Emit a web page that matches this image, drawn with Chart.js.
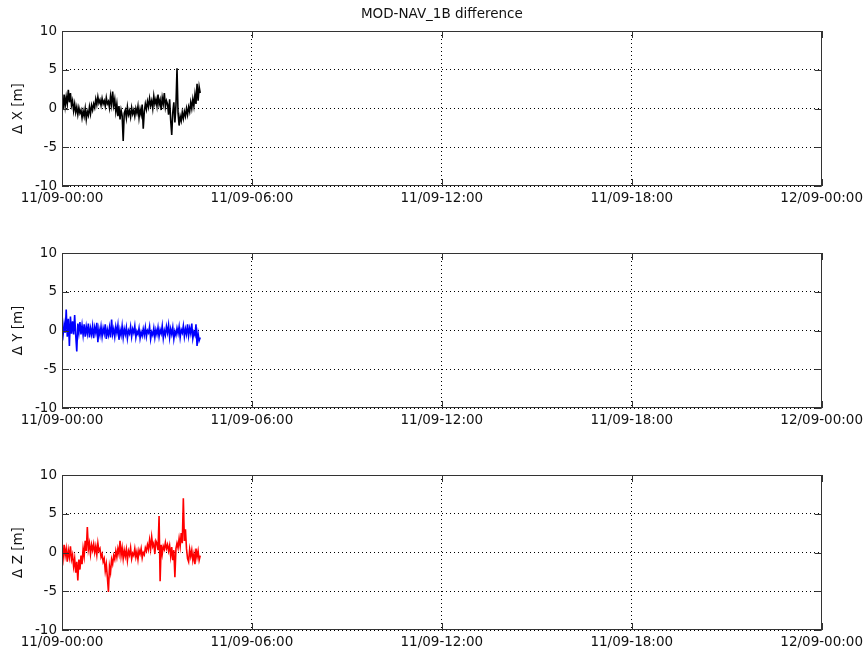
<!DOCTYPE html>
<html>
<head>
<meta charset="utf-8">
<script src="https://cdn.jsdelivr.net/npm/chart.js@4.4.1/dist/chart.umd.min.js"></script>
<style>
  body { margin: 0; background: #fff; }
  #wrap { position: relative; width: 867px; height: 652px; }
  .panel { position: absolute; left: 0; width: 867px; }
</style>
</head>
<body>
<div id="wrap">
  <div class="panel" style="top:0;height:222px"><canvas id="chartX"></canvas></div>
  <div class="panel" style="top:222px;height:222px"><canvas id="chartY"></canvas></div>
  <div class="panel" style="top:444px;height:208px"><canvas id="chartZ"></canvas></div>
</div>
<script>
// sampling: one value every 2 minutes from 11/09-00:00
const stepMinutes = 2;
const tickLabels = ['11/09-00:00', '11/09-06:00', '11/09-12:00', '11/09-18:00', '12/09-00:00'];
const axisTitles = ['\u0394 X [m]', '\u0394 Y [m]', '\u0394 Z [m]'];
const lineColors = ['#000000', '#0000ff', '#ff0000'];
const chartTitle = 'MOD-NAV_1B difference';

// MOD - NAV_1B differences [m]
const dx = [
  1.2, -0.2, 1.8, 0.3, 1.5, 0.6, 2.4, 0.8, 2.0, 0.4,
  1.0, -0.3, 0.6, -0.5, 0.2, -0.8, 0.1, -0.6, -0.2, -1.2,
  -0.3, -1.0, 0.0, -1.4, -0.4, -0.9, 0.2, -0.7, 0.4, -0.2,
  0.6, 0.1, 1.2, 0.5, 1.5, 0.7, 1.1, 0.4, 1.3, 0.6,
  1.0, 0.3, 1.4, 0.6, 0.9, 0.1, 1.6, 0.5, 2.2, 0.4,
  1.2, -0.4, 0.6, -1.0, 0.3, -1.4, -0.2, -0.9, -4.2, -0.6,
  -0.2, -1.2, 0.2, -0.8, -0.3, -1.1, 0.1, -0.7, -0.2, -1.0,
  0.0, -0.6, 0.3, -1.2, -0.1, -0.8, 0.5, -2.6, -0.4, 0.6,
  -0.1, 0.9, 0.2, 1.3, 0.4, 1.0, 0.0, 1.6, 0.6, 1.2,
  0.3, 1.8, 0.5, 1.1, -0.2, 1.4, 0.6, 2.0, 0.2, 1.0,
  0.6, -0.8, 1.2, -1.5, -3.4, -0.5, 0.8, -1.8, 0.4, 5.2,
  -0.6, -2.2, -1.0, -1.6, -0.5, -1.3, -0.4, -1.0, 0.0, -0.8,
  0.2, -0.4, 0.8, 0.0, 1.2, 0.3, 1.8, 0.6, 3.2, 1.0, 2.8, 2.0
];
const dy = [
  0.2, -0.6, 0.8, -0.3, 2.7, -0.8, 1.5, -2.0, 1.8, -0.4,
  1.2, -0.5, 2.0, -0.6, -2.7, 0.9, -0.3, 1.1, -0.5, 0.7,
  -0.6, 0.8, -0.8, 0.5, -0.4, 0.9, -0.9, 0.3, -0.5, 0.6,
  -1.0, 0.4, -0.3, 1.0, -1.5, 0.2, -0.6, 0.5, -0.8, 0.3,
  -0.4, 0.8, -1.1, 0.1, -0.6, 0.4, -0.9, 1.4, -0.5, 0.2,
  -0.8, 0.5, -0.3, 0.7, -1.2, 0.1, -0.6, 0.6, -0.9, 0.2,
  -0.5, 0.4, -1.0, 0.0, -0.4, 0.5, -0.8, 0.2, -0.3, 0.6,
  -0.9, -0.1, -0.5, 0.3, -1.0, -0.2, -0.7, 0.2, -0.6, 0.4,
  -0.8, 0.0, -0.3, 0.5, -1.1, -0.2, -0.6, 0.3, -0.9, 0.1,
  -0.5, 0.4, -0.8, 0.1, -0.4, 0.6, -1.0, 0.0, -0.6, 0.5,
  -0.3, 0.7, -0.9, 0.2, -0.5, 0.4, -1.1, -0.1, -0.6, 0.3,
  -0.4, 0.5, -0.9, 0.1, -0.3, 0.6, -0.8, 0.2, -0.5, 0.8,
  -0.7, 0.3, -0.4, 0.9, -1.0, -0.2, -0.6, 0.8, -2.0, -0.4, -1.3, -0.9
];
const dz = [
  0.2, -0.8, 1.0, -0.4, 0.5, -1.2, 0.3, -0.6, 0.8, -0.9,
  -0.3, -1.8, -0.8, -2.6, -1.2, -3.6, -0.9, -2.2, -0.4, -1.5,
  0.5, -0.5, 1.5, 0.2, 3.3, 0.4, 1.2, -0.2, 1.0, 0.3,
  1.1, 0.0, 0.8, -0.3, 1.2, 0.2, 0.5, -0.6, -0.2, -1.2,
  -0.8, -2.4, -1.5, -3.2, -5.1, -1.8, -2.6, -0.9, -1.5, -0.4,
  -0.9, 0.2, -0.6, 0.5, -0.2, 1.5, -0.4, 0.6, -0.8, 0.3,
  -0.5, 0.4, -1.0, 0.2, -0.3, 0.6, -0.8, -0.1, -0.4, 0.5,
  -0.6, 0.1, -0.9, 0.3, -0.2, 0.5, -0.7, 0.0, -0.3, 0.6,
  0.2, 1.0, 0.4, 1.6, 0.5, 2.0, 0.8, 1.2, -0.2, 1.5,
  1.2, 0.3, 4.7, -3.7, 1.0, -0.2, 0.8, 0.4, 1.3, 0.5,
  1.0, 0.2, 0.9, -0.5, 0.7, -1.0, 0.3, -3.2, 0.5, 1.2,
  0.6, 1.8, 0.8, 2.5, 1.2, 7.0, 1.5, 3.0, 0.5, -0.8,
  -1.2, 0.4, -0.5, 0.3, -1.0, -0.2, -1.5, 0.5, -0.6, 0.2, -1.0, -0.4
];

const fontFamily = '"DejaVu Sans", sans-serif';
const fontSize = 13.5;

// solid box round the axes plus inward tick marks (matlab style)
const framePlugin = {
  id: 'frame',
  afterDraw(chart) {
    const { ctx, chartArea: a, scales } = chart;
    const tl = 7;
    ctx.save();
    ctx.strokeStyle = '#333';
    ctx.lineWidth = 1;
    ctx.strokeRect(Math.round(a.left) + 0.5, Math.round(a.top) + 0.5,
      Math.round(a.right - a.left) - 1, Math.round(a.bottom - a.top) - 1);
    ctx.beginPath();
    scales.x.ticks.forEach(t => {
      const px = Math.round(scales.x.getPixelForValue(t.value)) + 0.5;
      ctx.moveTo(px, a.bottom); ctx.lineTo(px, a.bottom - tl);
      ctx.moveTo(px, a.top); ctx.lineTo(px, a.top + tl);
    });
    scales.y.ticks.forEach(t => {
      const py = Math.round(scales.y.getPixelForValue(t.value)) + 0.5;
      ctx.moveTo(a.left, py); ctx.lineTo(a.left + tl, py);
      ctx.moveTo(a.right, py); ctx.lineTo(a.right - tl, py);
    });
    ctx.stroke();
    // figure title, centred over the axes box
    if (chart.options.plugins.frame && chart.options.plugins.frame.title) {
      ctx.fillStyle = '#111';
      ctx.font = fontSize + 'px ' + fontFamily;
      ctx.textAlign = 'center';
      ctx.textBaseline = 'middle';
      ctx.fillText(chart.options.plugins.frame.title, (a.left + a.right) / 2, a.top - 17);
    }
    ctx.restore();
  }
};

function makeChart(canvasId, values, idx, withTitle) {
  const points = values.map((v, i) => ({ x: i * stepMinutes / 60, y: v }));
  const xAxisHeight = canvasId === 'chartZ' ? 22 : 36;
  return new Chart(document.getElementById(canvasId), {
    type: 'line',
    data: {
      datasets: [{
        data: points,
        borderColor: lineColors[idx],
        borderWidth: 1.6,
        pointRadius: 0,
        tension: 0,
        fill: false
      }]
    },
    options: {
      responsive: true,
      maintainAspectRatio: false,
      animation: false,
      events: [],
      layout: { padding: { left: 0, right: 45, top: 31, bottom: 0 } },
      scales: {
        x: {
          type: 'linear',
          min: 0,
          max: 24,
          grid: { color: '#000', lineWidth: 1, drawTicks: false },
          border: { display: false, dash: [1, 3] },
          ticks: {
            stepSize: 6,
            padding: 4,
            maxRotation: 0,
            autoSkip: false,
            color: '#111',
            font: { family: fontFamily, size: fontSize },
            callback: v => tickLabels[v / 6]
          },
          afterFit: s => { s.height = xAxisHeight; }
        },
        y: {
          min: -10,
          max: 10,
          grid: { color: '#000', lineWidth: 1, drawTicks: false },
          border: { display: false, dash: [1, 3] },
          ticks: {
            stepSize: 5,
            padding: 5,
            color: '#111',
            font: { family: fontFamily, size: fontSize }
          },
          title: {
            display: true,
            text: axisTitles[idx],
            color: '#111',
            font: { family: fontFamily, size: fontSize },
            padding: { top: 10, bottom: 0 }
          },
          afterFit: s => { s.width = 62; }
        }
      },
      plugins: {
        legend: { display: false },
        tooltip: { enabled: false },
        frame: { title: withTitle ? chartTitle : '' }
      }
    },
    plugins: [framePlugin]
  });
}

makeChart('chartX', dx, 0, true);
makeChart('chartY', dy, 1, false);
makeChart('chartZ', dz, 2, false);
</script>
</body>
</html>
